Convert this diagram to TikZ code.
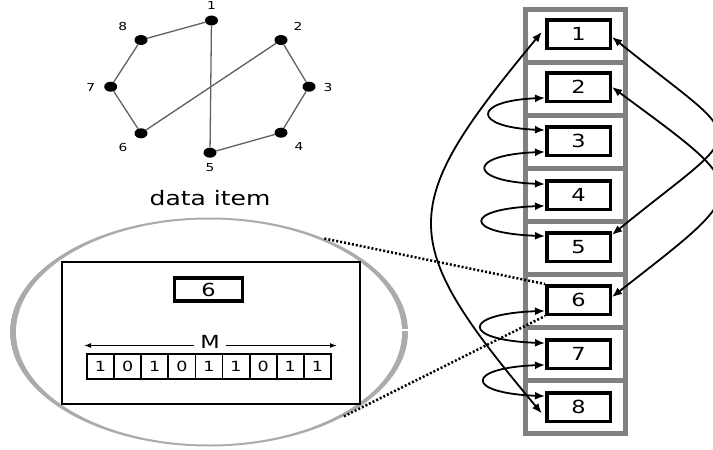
\documentclass[tikz,border=0pt]{standalone}
\usepackage{fontspec}
\setmainfont{DejaVu Sans}
\usepackage{graphicx}
\usetikzlibrary{arrows.meta,shapes.geometric}
\newcommand{\widetxt}[1]{\scalebox{1.25}[1]{#1}}
\tikzset{
  gdot/.style={ellipse, fill=black, minimum width=13pt, minimum height=10pt, inner sep=0pt},
  glab/.style={font=\fontsize{11}{13}\selectfont, inner sep=0pt},
  gedge/.style={draw=black!62, line width=1.3pt},
  cellbox/.style={draw=black!50, line width=5pt, minimum width=100pt, minimum height=53pt, inner sep=0pt},
  numbox/.style={draw=black, line width=3.5pt, minimum width=63.5pt, minimum height=28.5pt, inner sep=0pt, font=\fontsize{18}{20}\selectfont},
  bitbox/.style={draw=black, line width=1.8pt, minimum width=27.1pt, minimum height=25pt, inner sep=0pt, font=\fontsize{14}{16}\selectfont},
  dbl/.style={{Latex[length=10pt,width=8pt]}-{Latex[length=10pt,width=8pt]}, line width=1.8pt},
  dotline/.style={line width=2.5pt, dash pattern=on 2pt off 2pt},
}
\begin{document}
\begin{tikzpicture}[x=1pt,y=-1pt]
\useasboundingbox (0,0) rectangle (713,450);
\clip (0,0) rectangle (713,450);
\fill[white] (0,0) rectangle (713,450);

% graph
\node[gdot] (g1) at (211.5,20.5) {};
\node[gdot] (g2) at (281,40) {};
\node[gdot] (g3) at (309,86.7) {};
\node[gdot] (g4) at (281,132.7) {};
\node[gdot] (g5) at (210,152.7) {};
\node[gdot] (g6) at (141,133.3) {};
\node[gdot] (g7) at (110.7,86.7) {};
\node[gdot] (g8) at (141,40) {};
\draw[gedge] (g1) -- (g8);
\draw[gedge] (g8) -- (g7);
\draw[gedge] (g7) -- (g6);
\draw[gedge] (g6) -- (g2);
\draw[gedge] (g2) -- (g3);
\draw[gedge] (g3) -- (g4);
\draw[gedge] (g4) -- (g5);
\draw[gedge] (g5) -- (g1);
\node[glab] (l1) at (211.5,5) {\widetxt{1}};
\node[glab] (l2) at (298,26) {\widetxt{2}};
\node[glab] (l3) at (328,87) {\widetxt{3}};
\node[glab] (l4) at (299,146) {\widetxt{4}};
\node[glab] (l5) at (210,168) {\widetxt{5}};
\node[glab] (l6) at (123,147) {\widetxt{6}};
\node[glab] (l7) at (90.7,87) {\widetxt{7}};
\node[glab] (l8) at (122.7,26) {\widetxt{8}};

\node[font=\fontsize{20}{23}\selectfont, inner sep=0pt] (title) at (210,198) {\widetxt{data item}};

% lens
\node[ellipse, fill=black!33, minimum width=398pt, minimum height=229pt, inner sep=0pt] (lens) at (209,332) {};
\node[ellipse, fill=white, minimum width=386pt, minimum height=225pt, inner sep=0pt] (lensin) at (209,332) {};
\fill[white] (395,328.5) rectangle (411,331);

\node[draw=black, line width=2.6pt, minimum width=298pt, minimum height=142pt, inner sep=0pt] (item) at (211,333) {};
\node[draw=black, line width=3.3pt, minimum width=68pt, minimum height=23pt, inner sep=0pt, font=\fontsize{18}{20}\selectfont] (key) at (208.5,289.5) {\widetxt{6}};

\node[font=\fontsize{18}{20}\selectfont, inner sep=6pt] (mlab) at (210,341.5) {\widetxt{M}};
\coordinate (mleft) at (84,345.5);
\coordinate (mright) at (337,345.5);
\draw[-{Latex[length=7pt,width=5pt]}, line width=1.3pt] (mlab.west |- mleft) -- (mleft);
\draw[-{Latex[length=7pt,width=5pt]}, line width=1.3pt] (mlab.east |- mright) -- (mright);

\foreach \b [count=\k] in {1,0,1,0,1,1,0,1,1} {
  \node[bitbox] (bit\k) at ({87+27.1*(\k-0.5)},366.5) {\widetxt{\b}};
}

% array
\foreach \k in {1,...,8} {
  \node[cellbox] (c\k) at (575.5,{9+53*(\k-0.5)}) {};
}
\foreach \k/\yy in {1/34,2/87,3/141,4/195,5/247,6/300,7/354,8/407} {
  \node[numbox] (b\k) at (578.5,\yy) {\widetxt{\k}};
}

% dotted zoom lines
\draw[dotline] (lens.39) -- (b6.north west);
\draw[dotline] (lens.-32) -- (b6.south west);

% small left arcs
\draw[dbl] (b2.198) .. controls +(-73,3) and +(-73,-3) .. (b3.162);
\draw[dbl] (b3.198) .. controls +(-78,3) and +(-78,-3) .. (b4.162);
\draw[dbl] (b4.198) .. controls +(-82,3) and +(-82,-3) .. (b5.162);
\draw[dbl] (b6.198) .. controls +(-84,3) and +(-84,-3) .. (b7.162);
\draw[dbl] (b7.198) .. controls +(-80,3) and +(-80,-3) .. (b8.162);

% long left arc 1-8
\draw[dbl, shorten <=5pt, shorten >=5pt] (b1.170) .. controls +(-149,180) and +(-149,-178) .. (b8.197);

% right arcs
\draw[dbl] (b1.-5) .. controls +(140,113) and +(140,-114) .. (b5.20);
\draw[dbl] (b2.east) .. controls +(143,106) and +(143,-112) .. (b6.5);
\end{tikzpicture}
\end{document}
